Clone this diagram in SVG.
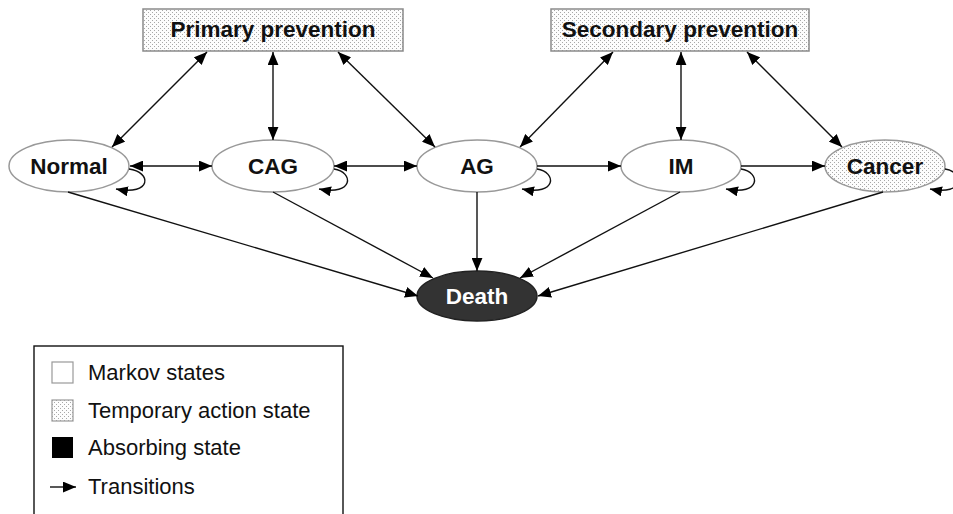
<svg xmlns="http://www.w3.org/2000/svg" width="953" height="514" viewBox="0 0 953 514">
<style>
.box{stroke:#8a8a8a;stroke-width:1.5;fill:url(#dots)}
.st{fill:#fff;stroke:#999;stroke-width:1.5}
.tmp{fill:url(#dots);stroke:#999;stroke-width:1.5}
.lbl{font-family:"Liberation Sans",Arial,sans-serif;font-weight:bold;font-size:22.5px;text-anchor:middle;fill:#111}
.leg{font-family:"Liberation Sans",Arial,sans-serif;font-size:22px;fill:#111}
.c{stroke:#111;stroke-width:1.4;fill:none}
</style>
<defs>
<pattern id="dots" width="4" height="4" patternUnits="userSpaceOnUse">
<rect width="4" height="4" fill="#fdfdfd"/>
<rect x="0" y="0" width="1" height="1" fill="#a8a8a8"/>
<rect x="2" y="2" width="1" height="1" fill="#a8a8a8"/>
</pattern>
<marker id="ah" viewBox="0 0 12 10" refX="12" refY="5" markerWidth="13" markerHeight="11" markerUnits="userSpaceOnUse" orient="auto-start-reverse">
<path d="M0,0 L12,5 L0,10 Z" fill="#000"/>
</marker>
<marker id="ahs" viewBox="0 0 12 10" refX="12" refY="5" markerWidth="12" markerHeight="10" markerUnits="userSpaceOnUse" orient="auto">
<path d="M0,0 L12,5 L0,10 Z" fill="#000"/>
</marker>
</defs>
<rect width="953" height="514" fill="#fff"/>

<g id="primary">
<rect class="box" x="143" y="9" width="260" height="42"/>
<text class="lbl" x="273" y="37">Primary prevention</text>
</g>
<g id="secondary">
<rect class="box" x="551" y="9" width="258" height="42"/>
<text class="lbl" x="680" y="37">Secondary prevention</text>
</g>

<g id="normal">
<ellipse class="st" cx="69" cy="166" rx="60" ry="26"/>
<text class="lbl" x="69" y="174">Normal</text>
</g>
<g id="cag">
<ellipse class="st" cx="273" cy="166" rx="61" ry="26"/>
<text class="lbl" x="273" y="174">CAG</text>
</g>
<g id="ag">
<ellipse class="st" cx="477" cy="166" rx="60" ry="26"/>
<text class="lbl" x="477" y="174">AG</text>
</g>
<g id="im">
<ellipse class="st" cx="681" cy="166" rx="60" ry="26"/>
<text class="lbl" x="681" y="174">IM</text>
</g>
<g id="cancer">
<ellipse class="tmp" cx="885" cy="166" rx="60" ry="26"/>
<text class="lbl" x="885" y="174">Cancer</text>
</g>
<g id="death">
<ellipse cx="477" cy="296" rx="60" ry="25" fill="#333" stroke="#222" stroke-width="1.5"/>
<text class="lbl" x="477" y="304" style="fill:#fff">Death</text>
</g>

<g id="connectors">
<line class="c" x1="207" y1="52" x2="112" y2="147" marker-start="url(#ah)" marker-end="url(#ah)"/>
<line class="c" x1="273" y1="52" x2="273" y2="140" marker-start="url(#ah)" marker-end="url(#ah)"/>
<line class="c" x1="338" y1="52" x2="435" y2="147" marker-start="url(#ah)" marker-end="url(#ah)"/>
<line class="c" x1="613" y1="52" x2="520" y2="147" marker-start="url(#ah)" marker-end="url(#ah)"/>
<line class="c" x1="681" y1="52" x2="681" y2="140" marker-start="url(#ah)" marker-end="url(#ah)"/>
<line class="c" x1="747" y1="52" x2="842" y2="147" marker-start="url(#ah)" marker-end="url(#ah)"/>

<line class="c" x1="130" y1="166" x2="212" y2="166" marker-start="url(#ah)" marker-end="url(#ah)"/>
<line class="c" x1="334" y1="166" x2="417" y2="166" marker-start="url(#ah)" marker-end="url(#ah)"/>
<line class="c" x1="537" y1="166" x2="621" y2="166" marker-end="url(#ah)"/>
<line class="c" x1="741" y1="166" x2="825" y2="166" marker-end="url(#ah)"/>

<path class="c" d="M129,169 C152,172 152,196 116,189" marker-end="url(#ahs)"/>
<path class="c" d="M334,169 C354,172 354,196 319,189" marker-end="url(#ahs)"/>
<path class="c" d="M537,169 C557,172 557,196 522,189" marker-end="url(#ahs)"/>
<path class="c" d="M741,169 C761,172 761,196 726,189" marker-end="url(#ahs)"/>
<path class="c" d="M945,169 C965,172 965,196 930,189" marker-end="url(#ahs)"/>

<line class="c" x1="68" y1="192" x2="418" y2="296" marker-end="url(#ah)"/>
<line class="c" x1="273" y1="192" x2="433" y2="278" marker-end="url(#ah)"/>
<line class="c" x1="477" y1="192" x2="477" y2="271" marker-end="url(#ah)"/>
<line class="c" x1="680" y1="192" x2="520" y2="278" marker-end="url(#ah)"/>
<line class="c" x1="883" y1="192" x2="538" y2="296" marker-end="url(#ah)"/>
</g>

<g id="legend">
<rect x="34" y="346" width="309" height="180" fill="#fff" stroke="#111" stroke-width="1.4"/>
<rect x="52" y="362" width="21" height="21" fill="#fff" stroke="#999" stroke-width="1.2"/>
<text class="leg" x="88" y="380">Markov states</text>
<rect x="52" y="400" width="21" height="21" fill="url(#dots)" stroke="#999" stroke-width="1.2"/>
<text class="leg" x="88" y="418">Temporary action state</text>
<rect x="52" y="437" width="21" height="21" fill="#000"/>
<text class="leg" x="88" y="455">Absorbing state</text>
<line class="c" x1="50" y1="487" x2="76" y2="487" marker-end="url(#ah)"/>
<text class="leg" x="88" y="494">Transitions</text>
</g>
</svg>
